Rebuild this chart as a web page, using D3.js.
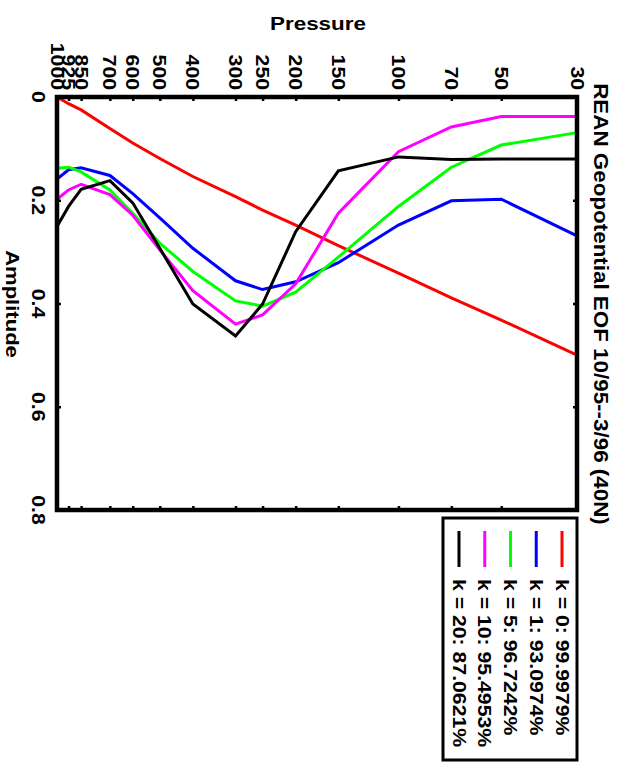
<!DOCTYPE html>
<html><head><meta charset="utf-8">
<script src="https://cdn.jsdelivr.net/npm/d3@7"></script>
<style>body{margin:0;background:#fff}svg{display:block}text{font-family:"Liberation Sans",Arial,sans-serif;font-weight:bold;fill:#000}</style>
</head><body>
<script>
const pressureLevels = [1000, 925, 850, 700, 600, 500, 400, 300, 250, 200, 150, 100, 70, 50, 30];
const tickLabels = ["1000","925","850","700","600","500","400","300","250","200","150","100","70","50","30"];
const ampTicks = [0, 0.2, 0.4, 0.6, 0.8];
const ampTickLabels = ["0","0.2","0.4","0.6","0.8"];
const seriesNames = ["k = 0: 99.9979%","k = 1: 93.0974%","k = 5: 96.7242%","k = 10: 95.4953%","k = 20: 87.0621%"];
const seriesColors = ["#ff0000","#0000ff","#00ff00","#ff00ff","#000000"];
const k0 = [0, 0.013, 0.025, 0.061, 0.089, 0.119, 0.154, 0.193, 0.219, 0.248, 0.288, 0.341, 0.389, 0.432, 0.500];
const k1 = [0.159, 0.141, 0.137, 0.152, 0.187, 0.234, 0.293, 0.356, 0.373, 0.358, 0.321, 0.248, 0.201, 0.198, 0.269];
const k5 = [0.138, 0.136, 0.145, 0.180, 0.225, 0.283, 0.338, 0.395, 0.405, 0.378, 0.310, 0.212, 0.136, 0.093, 0.069];
const k10 = [0.198, 0.180, 0.169, 0.189, 0.229, 0.296, 0.375, 0.440, 0.422, 0.362, 0.225, 0.106, 0.058, 0.038, 0.038];
const k20 = [0.251, 0.212, 0.179, 0.162, 0.205, 0.293, 0.401, 0.463, 0.401, 0.261, 0.143, 0.116, 0.121, 0.120, 0.120];
const series = [k0, k1, k5, k10, k20];
const titleText = "REAN Geopotential EOF 10/95--3/96 (40N)";

const W = 623, H = 767;
const L = 57, R = 577, T = 97, B = 510;
const SX = 1.18;
const svg = d3.select("body").append("svg").attr("width", W).attr("height", H);

const x = d3.scaleLog().domain([1000, 30]).range([L, R]);
const y = d3.scaleLinear().domain([0, 0.8]).range([T, B]);

const line = d3.line().x((d, i) => x(pressureLevels[i])).y(d => y(d));
series.forEach((s, i) => {
  svg.append("path").datum(s).attr("d", line).attr("fill", "none")
    .attr("stroke", seriesColors[i]).attr("stroke-width", 3).attr("stroke-linejoin", "miter");
});

const topAxis = d3.axisTop(x).tickValues(pressureLevels).tickSize(-4).tickFormat("");
const botAxis = d3.axisBottom(x).tickValues(pressureLevels).tickSize(-4).tickFormat("");
const leftAxis = d3.axisLeft(y).tickValues(ampTicks).tickSize(-4).tickFormat("");
const rightAxis = d3.axisRight(y).tickValues(ampTicks).tickSize(-4).tickFormat("");
[[topAxis, `translate(0,${T})`], [botAxis, `translate(0,${B})`], [leftAxis, `translate(${L},0)`], [rightAxis, `translate(${R},0)`]].forEach(([ax, tr]) => {
  const g = svg.append("g").attr("transform", tr).call(ax);
  g.select(".domain").remove();
  g.selectAll(".tick line").attr("stroke", "#000").attr("stroke-width", 2.5);
});
svg.append("rect").attr("x", L).attr("y", T).attr("width", R - L).attr("height", B - T)
  .attr("fill", "none").attr("stroke", "#000").attr("stroke-width", 4.5);

function rtext(tx, ty, str, size, anchor, sx) {
  return svg.append("text").attr("transform", `translate(${tx},${ty}) rotate(90) scale(${sx || SX},1)`)
    .attr("text-anchor", anchor).attr("dominant-baseline", "central")
    .style("font-size", size + "px").text(str);
}
pressureLevels.forEach((p, i) => rtext(x(p), 90, tickLabels[i], 18, "end"));
ampTicks.forEach((a, i) => rtext(38, y(a), ampTickLabels[i], 18, "middle"));
svg.append("text").attr("transform", `translate(318,30) scale(${SX},1)`).attr("text-anchor", "middle").style("font-size", "19px").text("Pressure");
rtext(13, 304, "Amplitude", 19, "middle", 1.16);
rtext(601, 304, titleText, 20, "middle", 1.12);

const lg = { x0: 443, x1: 577, y0: 518, y1: 760 };
svg.append("rect").attr("x", lg.x0).attr("y", lg.y0).attr("width", lg.x1 - lg.x0).attr("height", lg.y1 - lg.y0)
  .attr("fill", "none").attr("stroke", "#000").attr("stroke-width", 3);
const legX = d3.scalePoint().domain(d3.range(seriesNames.length)).range([562, 459]);
seriesNames.forEach((n, i) => {
  svg.append("line").attr("x1", legX(i)).attr("x2", legX(i)).attr("y1", 531).attr("y2", 567)
    .attr("stroke", seriesColors[i]).attr("stroke-width", 3);
  rtext(legX(i), 579, n, 18, "start");
});
</script>
</body></html>
